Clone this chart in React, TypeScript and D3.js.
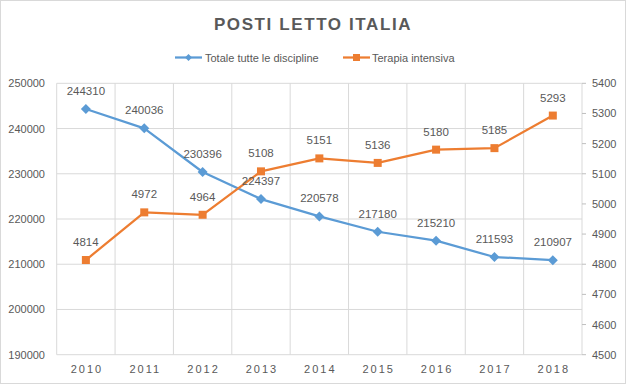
import * as d3 from "d3";

const YEARS = ["2010", "2011", "2012", "2013", "2014", "2015", "2016", "2017", "2018"];
const TOTALE = [244310, 240036, 230396, 224397, 220578, 217180, 215210, 211593, 210907];
const TERAPIA = [4814, 4972, 4964, 5108, 5151, 5136, 5180, 5185, 5293];

const W = 626;
const H = 384;
const PLOT = { left: 56.7, right: 582, top: 83.3, bottom: 354.7 };
const BLUE = "#5B9BD5";
const ORANGE = "#ED7D31";
const TEXT = "#595959";
const GRID = "#d9d9d9";
const FONT = "'Liberation Sans', Arial, sans-serif";

// Excel-style diamond (square turned 45°)
const diamond = (r: number) => `M0,${-r}L${r},0L0,${r}L${-r},0Z`;

export default function App() {
  const x = d3.scaleBand<string>().domain(YEARS).range([PLOT.left, PLOT.right]);
  const cx = (y: string) => (x(y) as number) + x.bandwidth() / 2;

  const yL = d3.scaleLinear().domain([190000, 250000]).range([PLOT.bottom, PLOT.top]);
  const yR = d3.scaleLinear().domain([4500, 5400]).range([PLOT.bottom, PLOT.top]);

  const lineL = d3.line<number>().x((_, i) => cx(YEARS[i])).y((d) => yL(d));
  const lineR = d3.line<number>().x((_, i) => cx(YEARS[i])).y((d) => yR(d));

  const vLines = [...YEARS.map((y) => x(y) as number), PLOT.right];

  return (
    <>
      <style>{"body{margin:0}"}</style>
      <svg width={W} height={H} style={{ display: "block", fontFamily: FONT }}>
        <rect x={0} y={0} width={W} height={H} fill="#fff" />
        <rect x={0.5} y={0.5} width={W - 1} height={H - 1} fill="none" stroke={GRID} />

        <text x={W / 2} y={30} textAnchor="middle" fontSize={17} fontWeight="bold"
          letterSpacing={1.6} fill={TEXT}>POSTI LETTO ITALIA</text>

        {/* legend */}
        <g>
          <line x1={175} x2={202} y1={57.5} y2={57.5} stroke={BLUE} strokeWidth={2.25} />
          <path d={diamond(3.5)} transform="translate(188.5,57.5)" fill={BLUE} />
          <text x={205} y={61.5} fontSize={11} fill={TEXT}>Totale tutte le discipline</text>
          <line x1={343} x2={370} y1={57.5} y2={57.5} stroke={ORANGE} strokeWidth={2.25} />
          <rect x={353} y={54} width={7} height={7} fill={ORANGE} />
          <text x={372} y={61.5} fontSize={11} fill={TEXT}>Terapia intensiva</text>
        </g>

        {/* grid */}
        {yL.ticks(6).map((t) => (
          <line key={"h" + t} x1={PLOT.left} x2={PLOT.right} y1={yL(t)} y2={yL(t)} stroke={GRID} />
        ))}
        {vLines.map((v, i) => (
          <line key={"v" + i} x1={v} x2={v} y1={PLOT.top} y2={PLOT.bottom} stroke={GRID} />
        ))}

        {/* left axis */}
        {yL.ticks(6).map((t) => (
          <text key={"l" + t} x={45} y={yL(t) + 4} textAnchor="end" fontSize={11} fill={TEXT}>{t}</text>
        ))}

        {/* right axis */}
        {yR.ticks(9).map((t) => (
          <g key={"r" + t}>
            <line x1={PLOT.right} x2={PLOT.right + 4} y1={yR(t)} y2={yR(t)} stroke="#bfbfbf" />
            <text x={592} y={yR(t) + 4} fontSize={11} fill={TEXT}>{t}</text>
          </g>
        ))}

        {/* x axis */}
        {YEARS.map((y) => (
          <text key={"x" + y} x={cx(y) + 1} y={373} textAnchor="middle" fontSize={11}
            letterSpacing={2} fill={TEXT}>{y}</text>
        ))}

        {/* series */}
        <path d={lineL(TOTALE) as string} fill="none" stroke={BLUE} strokeWidth={2.25} strokeLinejoin="round" />
        <path d={lineR(TERAPIA) as string} fill="none" stroke={ORANGE} strokeWidth={2.25} strokeLinejoin="round" />

        {TOTALE.map((v, i) => (
          <path key={"bm" + i} d={diamond(5)}
            transform={`translate(${cx(YEARS[i])},${yL(v)})`} fill={BLUE} />
        ))}
        {TERAPIA.map((v, i) => (
          <rect key={"om" + i} x={cx(YEARS[i]) - 4} y={yR(v) - 4} width={8} height={8} fill={ORANGE} />
        ))}

        {TOTALE.map((v, i) => (
          <text key={"bl" + i} x={cx(YEARS[i])} y={yL(v) - 14} textAnchor="middle" fontSize={11.5} fill={TEXT}>{v}</text>
        ))}
        {TERAPIA.map((v, i) => (
          <text key={"ol" + i} x={cx(YEARS[i])} y={yR(v) - 14} textAnchor="middle" fontSize={11.5} fill={TEXT}>{v}</text>
        ))}
      </svg>
    </>
  );
}
